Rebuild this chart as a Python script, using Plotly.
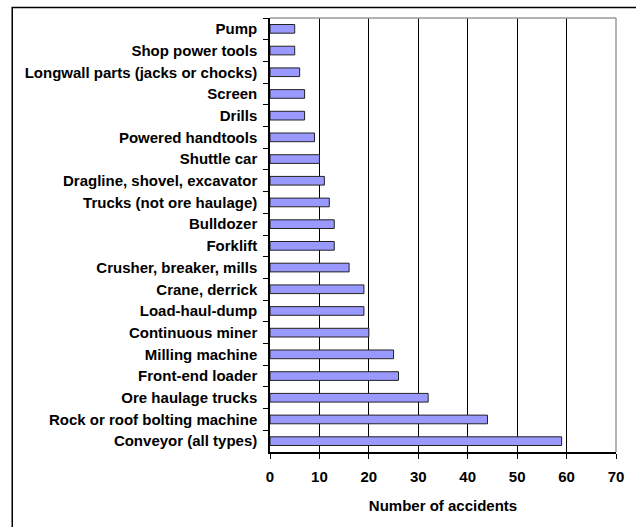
import plotly.graph_objects as go

# Equipment involved in accidents, listed top to bottom
equipment = [
    "Pump",
    "Shop power tools",
    "Longwall parts (jacks or chocks)",
    "Screen",
    "Drills",
    "Powered handtools",
    "Shuttle car",
    "Dragline, shovel, excavator",
    "Trucks (not ore haulage)",
    "Bulldozer",
    "Forklift",
    "Crusher, breaker, mills",
    "Crane, derrick",
    "Load-haul-dump",
    "Continuous miner",
    "Milling machine",
    "Front-end loader",
    "Ore haulage trucks",
    "Rock or roof bolting machine",
    "Conveyor (all types)",
]
accidents = [5, 5, 6, 7, 7, 9, 10, 11, 12, 13, 13, 16, 19, 19, 20, 25, 26, 32, 44, 59]
x_ticks = [0, 10, 20, 30, 40, 50, 60, 70]

W, H = 636, 527
L, R, T, B = 270, 17, 17.5, 75.3
plot_w = W - L - R
plot_h = H - T - B

font = dict(family="Liberation Sans, Arial, sans-serif", size=15, color="black", weight="bold")

fig = go.Figure(
    go.Bar(
        x=accidents,
        y=equipment,
        orientation="h",
        width=0.4,
        marker=dict(color="#9999FF", line=dict(color="#222222", width=1)),
    )
)

# outer chart frame, extending past the right and bottom edges of the page
fx0 = (10 - L) / plot_w
fy1 = (H - B - 7) / plot_h
fig.add_shape(type="rect", xref="paper", yref="paper",
              x0=fx0, x1=(W + 20 - L) / plot_w, y0=-(B + 20) / plot_h, y1=fy1,
              line=dict(color="black", width=1.5), layer="below")

# grey top and right edges of the plotting area
fig.add_shape(type="line", xref="paper", yref="paper", x0=0, x1=1, y0=1, y1=1,
              line=dict(color="#9a9a9a", width=1.5))
fig.add_shape(type="line", xref="paper", yref="paper", x0=1, x1=1, y0=0, y1=1,
              line=dict(color="#9a9a9a", width=1.5))

fig.update_layout(
    width=W, height=H,
    margin=dict(l=L, r=R, t=T, b=B),
    paper_bgcolor="white",
    plot_bgcolor="white",
    showlegend=False,
    font=font,
    bargap=0.6,
)

fig.update_xaxes(
    range=[0, 70],
    tickvals=x_ticks,
    ticktext=[str(v) for v in x_ticks],
    showgrid=True, gridcolor="black", gridwidth=1,
    showline=True, linecolor="black", linewidth=1.5,
    ticks="outside", ticklen=5, tickcolor="black", tickwidth=1,
    tickfont=font,
    ticklabelstandoff=5,
    zeroline=False,
    title=dict(text="Number of accidents", font=font, standoff=17),
)

fig.update_yaxes(
    autorange="reversed",
    type="category",
    showgrid=False,
    showline=True, linecolor="black", linewidth=1.5,
    ticks="outside", ticklen=5, tickcolor="black", tickwidth=1,
    tickson="boundaries",
    tickfont=font,
    ticklabelstandoff=8,
)

fig.write_html("out.html")
